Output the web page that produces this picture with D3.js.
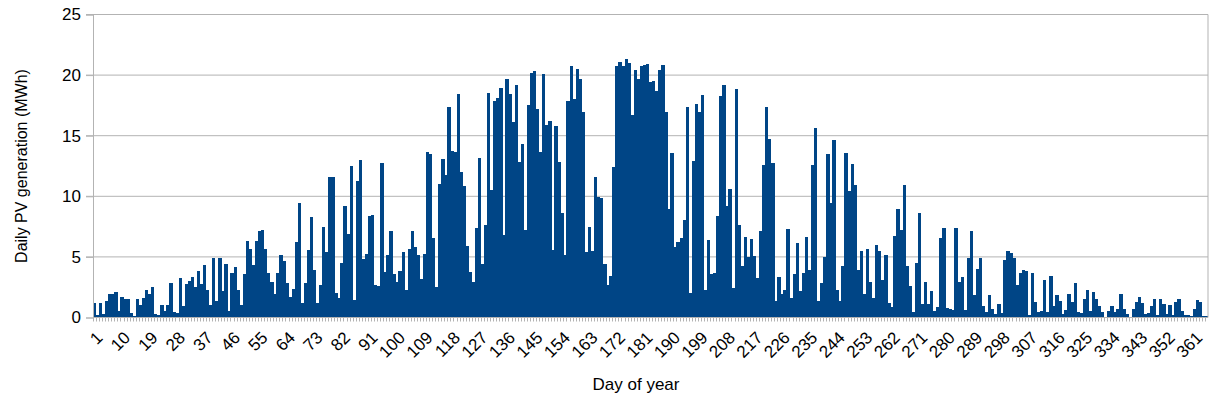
<!DOCTYPE html>
<html><head><meta charset="utf-8">
<script src="https://cdn.jsdelivr.net/npm/d3@7"></script>
<style>body{margin:0;background:#fff}svg{display:block}</style>
</head><body><svg id="c" width="1232" height="412"></svg>
<script>
const pvValues = [
1.2,0.2,1.2,0.3,1.4,1.9,1.9,2.1,0.5,1.7,
1.55,1.55,0.35,0.15,1.55,1.05,1.6,2.3,1.9,2.5,
0.3,0.2,1.0,0.5,1.05,2.85,0.45,0.4,3.3,0.95,
2.75,3.05,3.35,2.55,3.85,2.75,4.3,2.25,1.0,4.9,
1.35,4.9,2.2,4.4,0.5,3.65,4.15,2.25,1.0,3.6,
6.3,5.65,4.3,6.3,7.15,7.2,5.65,3.65,2.9,1.95,
3.65,5.15,4.65,2.85,1.7,2.35,6.2,9.45,1.2,2.85,
5.55,8.3,3.9,1.2,2.65,7.45,5.4,11.6,11.6,2.0,
1.65,4.5,9.2,6.9,12.5,1.45,11.25,13.0,4.85,5.25,
8.35,8.45,2.7,2.6,12.75,3.75,5.15,7.1,3.6,2.9,
3.85,5.4,2.25,5.65,7.1,5.8,5.15,3.15,5.25,13.65,
13.5,6.55,2.5,11.0,13.05,11.75,17.4,13.7,13.65,18.4,
12.0,10.85,5.9,3.75,2.9,7.4,13.15,4.4,7.6,18.5,
10.5,17.85,18.15,18.9,6.8,19.65,18.4,16.1,19.15,12.8,
14.3,7.2,17.5,20.2,20.3,17.2,13.65,20.05,15.85,16.2,
5.55,15.8,12.8,8.6,5.15,17.85,20.75,18.0,20.5,19.7,
16.95,5.4,7.45,5.5,11.6,9.95,9.9,4.4,2.7,3.4,
12.4,20.75,21.05,20.75,21.3,21.0,16.7,20.4,19.7,20.75,
20.8,20.9,19.4,19.55,18.65,20.4,20.8,16.95,8.95,13.55,
5.8,6.2,6.55,8.05,17.35,2.0,12.9,17.6,16.95,18.35,
2.25,6.4,3.6,3.65,8.35,18.25,19.15,9.2,10.6,2.45,
18.85,7.6,4.25,6.65,5.0,6.5,5.05,3.25,7.15,12.55,
17.35,14.7,12.75,1.35,3.35,1.95,2.25,7.3,1.6,3.6,
6.15,2.2,3.65,6.65,3.9,12.55,15.6,1.35,2.85,5.0,
13.5,9.45,14.65,2.25,1.35,4.25,13.55,10.45,12.65,10.9,
3.9,5.5,1.95,5.65,2.9,1.6,5.95,5.5,3.1,5.15,
1.2,0.85,6.7,8.95,7.2,10.9,4.25,2.6,0.45,4.5,
8.6,1.1,2.9,1.1,2.2,0.55,0.85,6.55,7.35,0.8,
0.7,0.6,7.35,2.9,3.35,0.6,4.9,7.15,1.85,4.0,
4.9,0.95,0.45,1.85,0.7,0.3,1.1,0.35,4.75,5.5,
5.3,4.9,2.7,3.65,3.9,3.85,0.2,3.65,1.3,0.45,
0.55,3.1,0.45,3.4,0.95,1.85,1.35,0.3,0.6,1.95,
1.3,2.85,0.45,0.35,1.5,2.25,0.55,2.1,1.5,0.95,
0.45,0.05,0.55,0.95,0.45,0.7,1.95,0.7,0.3,0.05,
0.7,1.3,1.7,1.2,0.3,0.35,0.95,1.5,0.2,1.5,
1.1,0.3,1.05,0.2,1.3,1.5,0.55,0.2,0.2,0.1,
0.7,1.45,1.3,0.1,0.1
];
const days = pvValues.map((_, i) => i + 1);
const xTickLabels = ["1","10","19","28","37","46","55","64","73","82","91","100","109","118","127","136","145","154","163","172","181","190","199","208","217","226","235","244","253","262","271","280","289","298","307","316","325","334","343","352","361"];
const yTicks = [0, 5, 10, 15, 20, 25];
const yTitle = "Daily PV generation (MWh)";
const xTitle = "Day of year";

const L = 93, R = 1208, T = 14.5, B = 317.5;
const FONT = "'Liberation Sans', Arial, sans-serif";
const svg = d3.select("#c");
svg.append("rect").attr("width", 1232).attr("height", 412).attr("fill", "#fff");

const x = d3.scaleBand().domain(days).range([L, R]).padding(0);
const y = d3.scaleLinear().domain([0, 25]).range([B, T]);

// grid
svg.append("g").selectAll("line").data(yTicks.filter(d => d > 0)).join("line")
  .attr("x1", L - 7).attr("x2", R).attr("y1", d => y(d)).attr("y2", d => y(d))
  .attr("stroke", "#b3b3b3").attr("stroke-width", 1);

// bars
svg.append("g").attr("shape-rendering", "crispEdges").selectAll("rect").data(days).join("rect")
  .attr("x", d => x(d)).attr("width", x.bandwidth() + 0.3)
  .attr("y", (d, i) => y(pvValues[i])).attr("height", (d, i) => y(0) - y(pvValues[i]))
  .attr("fill", "#004586");

// y axis
const ya = svg.append("g").attr("transform", `translate(${L},0)`)
  .call(d3.axisLeft(y).tickValues(yTicks).tickSize(7).tickPadding(5).tickFormat(d3.format("d")));
ya.select(".domain").attr("stroke", "#b3b3b3");
ya.selectAll(".tick line").attr("stroke", "#b3b3b3");
ya.selectAll(".tick text").attr("font-family", FONT).attr("font-size", 17).attr("fill", "#000");

// right border
svg.append("line").attr("x1", R).attr("x2", R).attr("y1", T).attr("y2", B).attr("stroke", "#b3b3b3");

// x axis
const xa = svg.append("g").attr("transform", `translate(0,${B})`);
xa.append("line").attr("x1", L).attr("x2", R).attr("stroke", "#b3b3b3");
xa.selectAll("line.mt").data(days).join("line").attr("class", "mt")
  .attr("x1", d => Math.round(x(d)) + 0.5).attr("x2", d => Math.round(x(d)) + 0.5)
  .attr("y1", 0).attr("y2", 4).attr("stroke", "#b3b3b3");
xa.selectAll("text").data(xTickLabels).join("text")
  .attr("transform", d => `translate(${x(+d) + x.bandwidth() / 2 + 5},${17}) rotate(-45)`)
  .attr("text-anchor", "end").attr("dy", "0.35em")
  .attr("font-family", FONT).attr("font-size", 17).attr("fill", "#000")
  .text(d => d);

// titles
svg.append("text").attr("transform", `translate(27,${(T + B) / 2}) rotate(-90)`)
  .attr("text-anchor", "middle").attr("font-family", FONT).attr("font-size", 16).attr("fill", "#000")
  .text(yTitle);
svg.append("text").attr("x", 636).attr("y", 390)
  .attr("text-anchor", "middle").attr("font-family", FONT).attr("font-size", 17).attr("fill", "#000")
  .text(xTitle);
</script>
</body></html>
